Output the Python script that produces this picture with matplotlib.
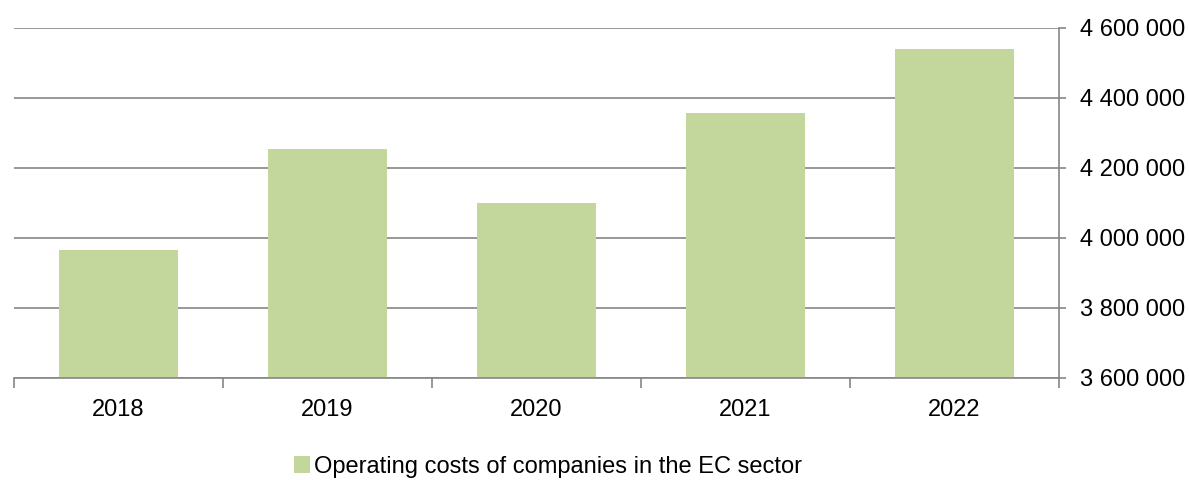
import numpy as np
import matplotlib.pyplot as plt

plt.rcParams['font.family'] = ['Liberation Sans', 'DejaVu Sans']

years = ['2018', '2019', '2020', '2021', '2022']
costs = [3965700, 4254300, 4101000, 4357100, 4540000]
series_name = 'Operating costs of companies in the EC sector'
yticks = [3600000, 3800000, 4000000, 4200000, 4400000, 4600000]

bar_color = '#C3D69B'
grid_color = '#868686'

fig = plt.figure(figsize=(11.89, 4.8), dpi=100)
ax = fig.add_axes([14/1189, (480-378)/480, (1059-14)/1189, 350/480])

x = np.arange(len(years))
ax.bar(x, costs, width=0.57, color=bar_color, zorder=2, label=series_name)

ax.set_xlim(-0.5, len(years) - 0.5)
ax.set_ylim(yticks[0], yticks[-1])

# y axis on the right, labels with space as thousands separator
ax.yaxis.tick_right()
ax.set_yticks(yticks)
ax.set_yticklabels([f'{v:,}'.replace(',', ' ') for v in yticks], fontsize=17)
ax.tick_params(axis='y', direction='out', length=5, width=1.2, color=grid_color, pad=10)

ax.set_xticks(x)
ax.set_xticklabels(years, fontsize=17)
ax.tick_params(axis='x', which='major', length=0, pad=15)
ax.set_xticks(np.arange(len(years) + 1) - 0.5, minor=True)
ax.tick_params(axis='x', which='minor', direction='out', length=7, width=1.2, color=grid_color)

ax.grid(axis='y', color=grid_color, linewidth=1.2, zorder=1)
ax.set_axisbelow(True)

for side in ['top', 'left']:
    ax.spines[side].set_visible(False)
for side in ['bottom', 'right']:
    ax.spines[side].set_color(grid_color)
    ax.spines[side].set_linewidth(1.2)

ax.legend(loc='center', bbox_to_anchor=(548/1189, 1 - 467/480), bbox_transform=fig.transFigure,
          frameon=False, fontsize=17, handlelength=0.7, handleheight=0.7, handletextpad=0.15)

fig.savefig('out.png', dpi=100)
